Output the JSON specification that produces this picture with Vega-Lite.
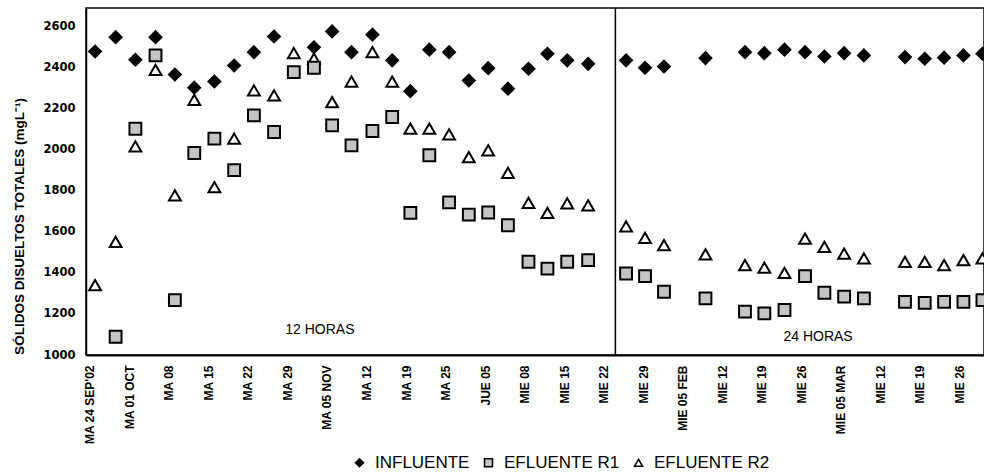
{
  "$schema": "https://vega.github.io/schema/vega-lite/v6.json",
  "width": 898,
  "height": 347,
  "autosize": "none",
  "padding": {"left": 86, "top": 8, "right": 0, "bottom": 119},
  "background": "white",
  "config": {"view": {"stroke": "black", "strokeWidth": 1.5}},
  "layer": [
    {
      "data": {"values": [{}]},
      "mark": {"type": "rule", "color": "black", "strokeWidth": 1.5},
      "encoding": {"x": {"datum": 13.3, "type": "quantitative"}}
    },
    {
      "data": {"values": [
        {"s": "EFLUENTE R2", "t": 0.13, "v": 1340}, {"s": "EFLUENTE R2", "t": 0.65, "v": 1551}, {"s": "EFLUENTE R2", "t": 1.15, "v": 2016}, {"s": "EFLUENTE R2", "t": 1.66, "v": 2389}, {"s": "EFLUENTE R2", "t": 2.15, "v": 1778}, {"s": "EFLUENTE R2", "t": 2.64, "v": 2243}, {"s": "EFLUENTE R2", "t": 3.15, "v": 1818}, {"s": "EFLUENTE R2", "t": 3.65, "v": 2054}, {"s": "EFLUENTE R2", "t": 4.15, "v": 2289}, {"s": "EFLUENTE R2", "t": 4.66, "v": 2264}, {"s": "EFLUENTE R2", "t": 5.16, "v": 2470}, {"s": "EFLUENTE R2", "t": 5.67, "v": 2443}, {"s": "EFLUENTE R2", "t": 6.13, "v": 2232}, {"s": "EFLUENTE R2", "t": 6.62, "v": 2332}, {"s": "EFLUENTE R2", "t": 7.15, "v": 2475}, {"s": "EFLUENTE R2", "t": 7.65, "v": 2332}, {"s": "EFLUENTE R2", "t": 8.11, "v": 2102}, {"s": "EFLUENTE R2", "t": 8.59, "v": 2102}, {"s": "EFLUENTE R2", "t": 9.09, "v": 2075}, {"s": "EFLUENTE R2", "t": 9.59, "v": 1964}, {"s": "EFLUENTE R2", "t": 10.08, "v": 1997}, {"s": "EFLUENTE R2", "t": 10.58, "v": 1887}, {"s": "EFLUENTE R2", "t": 11.1, "v": 1741}, {"s": "EFLUENTE R2", "t": 11.58, "v": 1692}, {"s": "EFLUENTE R2", "t": 12.08, "v": 1738}, {"s": "EFLUENTE R2", "t": 12.61, "v": 1729}, {"s": "EFLUENTE R2", "t": 13.57, "v": 1627}, {"s": "EFLUENTE R2", "t": 14.05, "v": 1570}, {"s": "EFLUENTE R2", "t": 14.53, "v": 1535}, {"s": "EFLUENTE R2", "t": 15.58, "v": 1490}, {"s": "EFLUENTE R2", "t": 16.58, "v": 1438}, {"s": "EFLUENTE R2", "t": 17.07, "v": 1425}, {"s": "EFLUENTE R2", "t": 17.58, "v": 1400}, {"s": "EFLUENTE R2", "t": 18.1, "v": 1567}, {"s": "EFLUENTE R2", "t": 18.59, "v": 1527}, {"s": "EFLUENTE R2", "t": 19.09, "v": 1494}, {"s": "EFLUENTE R2", "t": 19.59, "v": 1470}, {"s": "EFLUENTE R2", "t": 20.63, "v": 1454}, {"s": "EFLUENTE R2", "t": 21.13, "v": 1454}, {"s": "EFLUENTE R2", "t": 21.62, "v": 1438}, {"s": "EFLUENTE R2", "t": 22.11, "v": 1462}, {"s": "EFLUENTE R2", "t": 22.59, "v": 1470},
        {"s": "EFLUENTE R1", "t": 0.65, "v": 1089}, {"s": "EFLUENTE R1", "t": 1.15, "v": 2102}, {"s": "EFLUENTE R1", "t": 1.66, "v": 2459}, {"s": "EFLUENTE R1", "t": 2.15, "v": 1267}, {"s": "EFLUENTE R1", "t": 2.64, "v": 1984}, {"s": "EFLUENTE R1", "t": 3.15, "v": 2054}, {"s": "EFLUENTE R1", "t": 3.65, "v": 1900}, {"s": "EFLUENTE R1", "t": 4.15, "v": 2167}, {"s": "EFLUENTE R1", "t": 4.66, "v": 2086}, {"s": "EFLUENTE R1", "t": 5.16, "v": 2378}, {"s": "EFLUENTE R1", "t": 5.67, "v": 2399}, {"s": "EFLUENTE R1", "t": 6.13, "v": 2118}, {"s": "EFLUENTE R1", "t": 6.62, "v": 2021}, {"s": "EFLUENTE R1", "t": 7.15, "v": 2091}, {"s": "EFLUENTE R1", "t": 7.65, "v": 2159}, {"s": "EFLUENTE R1", "t": 8.11, "v": 1692}, {"s": "EFLUENTE R1", "t": 8.59, "v": 1973}, {"s": "EFLUENTE R1", "t": 9.09, "v": 1743}, {"s": "EFLUENTE R1", "t": 9.59, "v": 1684}, {"s": "EFLUENTE R1", "t": 10.08, "v": 1694}, {"s": "EFLUENTE R1", "t": 10.58, "v": 1632}, {"s": "EFLUENTE R1", "t": 11.1, "v": 1454}, {"s": "EFLUENTE R1", "t": 11.58, "v": 1421}, {"s": "EFLUENTE R1", "t": 12.08, "v": 1454}, {"s": "EFLUENTE R1", "t": 12.61, "v": 1462}, {"s": "EFLUENTE R1", "t": 13.57, "v": 1397}, {"s": "EFLUENTE R1", "t": 14.05, "v": 1384}, {"s": "EFLUENTE R1", "t": 14.53, "v": 1308}, {"s": "EFLUENTE R1", "t": 15.58, "v": 1276}, {"s": "EFLUENTE R1", "t": 16.58, "v": 1211}, {"s": "EFLUENTE R1", "t": 17.07, "v": 1203}, {"s": "EFLUENTE R1", "t": 17.58, "v": 1219}, {"s": "EFLUENTE R1", "t": 18.1, "v": 1384}, {"s": "EFLUENTE R1", "t": 18.59, "v": 1303}, {"s": "EFLUENTE R1", "t": 19.09, "v": 1284}, {"s": "EFLUENTE R1", "t": 19.59, "v": 1276}, {"s": "EFLUENTE R1", "t": 20.63, "v": 1259}, {"s": "EFLUENTE R1", "t": 21.13, "v": 1254}, {"s": "EFLUENTE R1", "t": 21.62, "v": 1259}, {"s": "EFLUENTE R1", "t": 22.11, "v": 1259}, {"s": "EFLUENTE R1", "t": 22.59, "v": 1267},
        {"s": "INFLUENTE", "t": 0.13, "v": 2478}, {"s": "INFLUENTE", "t": 0.65, "v": 2548}, {"s": "INFLUENTE", "t": 1.15, "v": 2438}, {"s": "INFLUENTE", "t": 1.66, "v": 2548}, {"s": "INFLUENTE", "t": 2.15, "v": 2366}, {"s": "INFLUENTE", "t": 2.64, "v": 2302}, {"s": "INFLUENTE", "t": 3.15, "v": 2332}, {"s": "INFLUENTE", "t": 3.65, "v": 2410}, {"s": "INFLUENTE", "t": 4.15, "v": 2475}, {"s": "INFLUENTE", "t": 4.66, "v": 2551}, {"s": "INFLUENTE", "t": 5.67, "v": 2499}, {"s": "INFLUENTE", "t": 6.13, "v": 2576}, {"s": "INFLUENTE", "t": 6.62, "v": 2475}, {"s": "INFLUENTE", "t": 7.15, "v": 2560}, {"s": "INFLUENTE", "t": 7.65, "v": 2435}, {"s": "INFLUENTE", "t": 8.11, "v": 2285}, {"s": "INFLUENTE", "t": 8.59, "v": 2487}, {"s": "INFLUENTE", "t": 9.09, "v": 2475}, {"s": "INFLUENTE", "t": 9.59, "v": 2337}, {"s": "INFLUENTE", "t": 10.08, "v": 2397}, {"s": "INFLUENTE", "t": 10.58, "v": 2297}, {"s": "INFLUENTE", "t": 11.1, "v": 2394}, {"s": "INFLUENTE", "t": 11.58, "v": 2467}, {"s": "INFLUENTE", "t": 12.08, "v": 2435}, {"s": "INFLUENTE", "t": 12.61, "v": 2418}, {"s": "INFLUENTE", "t": 13.57, "v": 2435}, {"s": "INFLUENTE", "t": 14.05, "v": 2399}, {"s": "INFLUENTE", "t": 14.53, "v": 2405}, {"s": "INFLUENTE", "t": 15.58, "v": 2446}, {"s": "INFLUENTE", "t": 16.58, "v": 2475}, {"s": "INFLUENTE", "t": 17.07, "v": 2470}, {"s": "INFLUENTE", "t": 17.58, "v": 2487}, {"s": "INFLUENTE", "t": 18.1, "v": 2475}, {"s": "INFLUENTE", "t": 18.59, "v": 2454}, {"s": "INFLUENTE", "t": 19.09, "v": 2470}, {"s": "INFLUENTE", "t": 19.59, "v": 2459}, {"s": "INFLUENTE", "t": 20.63, "v": 2451}, {"s": "INFLUENTE", "t": 21.13, "v": 2443}, {"s": "INFLUENTE", "t": 21.62, "v": 2448}, {"s": "INFLUENTE", "t": 22.11, "v": 2459}, {"s": "INFLUENTE", "t": 22.59, "v": 2467}
      ]},
      "mark": {"type": "point", "filled": true, "strokeWidth": 2, "opacity": 1, "size": 140},
      "encoding": {
        "x": {
          "field": "t", "type": "quantitative",
          "scale": {"domain": [-0.1, 22.63], "nice": false, "zero": false},
          "axis": {
            "title": null, "grid": false, "ticks": false,
            "values": [0,1,2,3,4,5,6,7,8,9,10,11,12,13,14,15,16,17,18,19,20,21,22],
            "labelExpr": "[\"MA 24 SEP'02\",\"MA 01 OCT\",\"MA 08\",\"MA 15\",\"MA 22\",\"MA 29\",\"MA 05 NOV\",\"MA 12\",\"MA 19\",\"MA 25\",\"JUE 05\",\"MIE 08\",\"MIE 15\",\"MIE 22\",\"MIE 29\",\"MIE 05 FEB\",\"MIE 12\",\"MIE 19\",\"MIE 26\",\"MIE 05 MAR\",\"MIE 12\",\"MIE 19\",\"MIE 26\"][datum.value]",
            "labelAngle": -90, "labelPadding": 10,
            "labelFont": "Liberation Sans", "labelFontSize": 12, "labelFontWeight": "bold", "labelColor": "black",
            "labelOverlap": false, "labelBound": false, "labelFlush": false,
            "domainColor": "black", "domainWidth": 2
          }
        },
        "y": {
          "field": "v", "type": "quantitative",
          "scale": {"domain": [1000, 2690], "nice": false, "zero": false},
          "axis": {
            "title": "SÓLIDOS DISUELTOS TOTALES (mgL⁻¹)",
            "titleFont": "Liberation Sans", "titleFontSize": 13.5, "titleFontWeight": "bold", "titleColor": "black",
            "titleX": -60, "titleY": 218, "titleAngle": -90, "titleAlign": "center", "titleBaseline": "bottom",
            "grid": false, "ticks": false, "format": "d",
            "values": [1000,1200,1400,1600,1800,2000,2200,2400,2600],
            "labelPadding": 11, "labelFont": "DejaVu Sans", "labelFontSize": 11.5, "labelFontWeight": "bold", "labelColor": "black",
            "domainColor": "black", "domainWidth": 1.5
          }
        },
        "shape": {
          "field": "s", "type": "nominal",
          "scale": {"domain": ["INFLUENTE", "EFLUENTE R1", "EFLUENTE R2"], "range": ["diamond", "square", "triangle-up"]},
          "legend": {"title": null, "orient": "none", "legendX": 265, "legendY": 446, "direction": "horizontal",
            "labelFont": "Liberation Sans", "labelFontSize": 17, "labelColor": "black", "labelOffset": 7, "columnPadding": 10,
            "symbolSize": 64, "symbolStrokeWidth": 1.5}
        },
        "fill": {
          "field": "s", "type": "nominal",
          "scale": {"domain": ["INFLUENTE", "EFLUENTE R1", "EFLUENTE R2"], "range": ["black", "#c4c4c4", "white"]},
          "legend": {"title": null, "orient": "none", "legendX": 265, "legendY": 446, "direction": "horizontal",
            "labelFont": "Liberation Sans", "labelFontSize": 17, "labelColor": "black", "labelOffset": 7, "columnPadding": 10,
            "symbolSize": 64, "symbolStrokeWidth": 1.5}
        },
        "stroke": {
          "field": "s", "type": "nominal",
          "scale": {"domain": ["INFLUENTE", "EFLUENTE R1", "EFLUENTE R2"], "range": ["black", "black", "black"]},
          "legend": {"title": null, "orient": "none", "legendX": 265, "legendY": 446, "direction": "horizontal",
            "labelFont": "Liberation Sans", "labelFontSize": 17, "labelColor": "black", "labelOffset": 7, "columnPadding": 10,
            "symbolSize": 64, "symbolStrokeWidth": 1.5}
        }
      }
    },
    {
      "data": {"values": [{}]},
      "mark": {"type": "text", "font": "Liberation Sans", "fontSize": 14, "color": "black", "align": "center", "baseline": "middle"},
      "encoding": {
        "x": {"datum": 5.82, "type": "quantitative"},
        "y": {"datum": 1122, "type": "quantitative"},
        "text": {"value": "12 HORAS"}
      }
    },
    {
      "data": {"values": [{}]},
      "mark": {"type": "text", "font": "Liberation Sans", "fontSize": 14, "color": "black", "align": "center", "baseline": "middle"},
      "encoding": {
        "x": {"datum": 18.43, "type": "quantitative"},
        "y": {"datum": 1089, "type": "quantitative"},
        "text": {"value": "24 HORAS"}
      }
    }
  ]
}
